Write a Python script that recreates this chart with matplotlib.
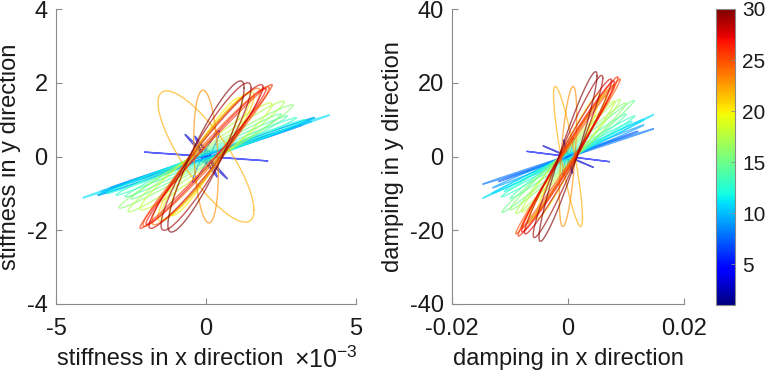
import numpy as np
import matplotlib
matplotlib.use("Agg")
import matplotlib.pyplot as plt
from matplotlib import cm, colors

# --- DATA: one orbit ellipse per index (1..30), x = ax*cos(t), y = ay*cos(t - phase) ---
INDEX = np.arange(1, 31)

# stiffness (x amplitude in 1e-3 units, y amplitude, phase in degrees)
STIFF_X_AMP = [0.15, 0.25, 0.70, 0.37, 2.05, 0.45, 3.20, 3.50, 3.60, 3.60,
               4.10, 3.30, 3.00, 2.70, 2.50, 2.90, 2.60, 2.20, 1.50, 1.20,
               1.60, 1.60, 0.41, 1.80, 2.10, 2.20, 2.00, 1.90, 1.50, 1.27]
STIFF_Y_AMP = [0.15, 0.35, 0.60, 0.55, 0.12, 0.70, 0.85, 0.95, 1.05, 1.05,
               1.12, 1.00, 1.05, 1.10, 1.15, 1.40, 1.50, 1.45, 1.70, 1.60,
               1.75, 1.78, 1.80, 1.85, 1.90, 1.95, 1.85, 1.95, 2.00, 2.05]
STIFF_PHASE = [60, 150, 176, 172, 177, 15, 2, 2, 3, 3,
               2, 5, 6, 7, 8, 9, 10, 14, 18, 22,
               20, 145, 104, 18, 12, 8, 10, 15, 22, 25]

# damping (x amplitude in 1e-3 units, y amplitude, phase in degrees)
DAMP_X_AMP = [0.5, 0.8, 4.3, 0.8, 7.1, 1.0, 12.0, 14.7, 13.0, 13.0,
              14.7, 11.0, 11.5, 10.0, 11.4, 10.0, 9.0, 8.0, 6.5, 5.5,
              7.0, 2.5, 1.5, 8.0, 9.0, 8.6, 8.0, 7.5, 6.0, 5.0]
DAMP_Y_AMP = [0.5, 1.5, 2.9, 4.5, 1.4, 5.0, 6.8, 7.5, 8.5, 10.0,
              11.3, 9.5, 11.0, 11.5, 15.2, 14.5, 15.5, 15.0, 16.5, 17.0,
              18.0, 19.0, 19.0, 19.5, 21.0, 21.6, 20.5, 21.0, 22.0, 23.0]
DAMP_PHASE = [60, 150, 178, 170, 178, 15, 2, 2, 3, 3,
              2, 4, 5, 6, 6, 8, 8, 10, 12, 15,
              10, 151, 54, 8, 6, 8, 10, 12, 15, 18]

STIFF_XTICKS = [-5e-3, 0, 5e-3]
STIFF_XTICKLABELS = ['-5', '0', '5']
STIFF_YTICKS = [-4, -2, 0, 2, 4]
DAMP_XTICKS = [-0.02, 0, 0.02]
DAMP_XTICKLABELS = ['-0.02', '0', '0.02']
DAMP_YTICKS = [-40, -20, 0, 20, 40]
CBAR_TICKS = [5, 10, 15, 20, 25, 30]

AXIS_GREY = '#8a8a8a'
TEXT_COLOR = '#1a1a1a'

plt.rcParams['font.family'] = ['Liberation Sans', 'DejaVu Sans']
plt.rcParams['mathtext.fontset'] = 'custom'
plt.rcParams['mathtext.rm'] = 'Liberation Sans'
plt.rcParams['mathtext.it'] = 'Liberation Sans:italic'
plt.rcParams['axes.unicode_minus'] = False


def draw_orbits(ax, x_amp, y_amp, phase, x_scale, cmap, norm):
    t = np.linspace(0, 2 * np.pi, 200)
    for k, a, b, p in zip(INDEX, x_amp, y_amp, phase):
        x = a * x_scale * np.cos(t)
        y = b * np.cos(t - np.deg2rad(p))
        ax.plot(x, y, color=cmap(norm(k)), lw=1.0, alpha=0.65)


def style_axes(ax):
    for side in ('top', 'right'):
        ax.spines[side].set_visible(False)
    for side in ('left', 'bottom'):
        ax.spines[side].set_color(AXIS_GREY)
        ax.spines[side].set_linewidth(0.8)
    ax.tick_params(direction='in', length=4, width=0.8, color=AXIS_GREY,
                   labelsize=17, labelcolor=TEXT_COLOR, pad=6)
    ax.tick_params(axis='x', pad=10)


def main():
    fig = plt.figure(figsize=(7.65, 3.74), dpi=100)
    cmap = cm.jet
    norm = colors.Normalize(vmin=1, vmax=30)

    H = 374.0
    W = 765.0
    ax1 = fig.add_axes([56 / W, (H - 304) / H, 300 / W, 295 / H])
    ax2 = fig.add_axes([452 / W, (H - 304) / H, 232 / W, 295 / H])
    cax = fig.add_axes([716 / W, (H - 305) / H, 19 / W, 296 / H])

    # stiffness
    draw_orbits(ax1, STIFF_X_AMP, STIFF_Y_AMP, STIFF_PHASE, 1e-3, cmap, norm)
    ax1.set_xlim(-5e-3, 5e-3)
    ax1.set_ylim(-4, 4)
    ax1.set_xticks(STIFF_XTICKS, labels=STIFF_XTICKLABELS)
    ax1.set_yticks(STIFF_YTICKS)
    style_axes(ax1)
    ax1.set_xlabel('stiffness in x direction', fontsize=17, color=TEXT_COLOR)
    ax1.xaxis.set_label_coords(0.38, -0.148)
    ax1.text(1.005, -0.19, r'$\times10^{-3}$', transform=ax1.transAxes,
             ha='right', va='center', fontsize=18, color=TEXT_COLOR)
    ax1.set_ylabel('stiffness in y direction', fontsize=17, color=TEXT_COLOR, labelpad=4)

    # damping
    draw_orbits(ax2, DAMP_X_AMP, DAMP_Y_AMP, DAMP_PHASE, 1e-3, cmap, norm)
    ax2.set_xlim(-0.02, 0.02)
    ax2.set_ylim(-40, 40)
    ax2.set_xticks(DAMP_XTICKS, labels=DAMP_XTICKLABELS)
    ax2.set_yticks(DAMP_YTICKS)
    style_axes(ax2)
    ax2.set_xlabel('damping in x direction', fontsize=17, color=TEXT_COLOR)
    ax2.xaxis.set_label_coords(0.5, -0.148)
    ax2.set_ylabel('damping in y direction', fontsize=17, color=TEXT_COLOR, labelpad=4)

    # colorbar
    sm = cm.ScalarMappable(norm=norm, cmap=cmap)
    cb = fig.colorbar(sm, cax=cax)
    cb.set_ticks(CBAR_TICKS)
    cb.outline.set_edgecolor(AXIS_GREY)
    cb.outline.set_linewidth(0.8)
    cax.tick_params(direction='in', length=3, width=0.6, color=AXIS_GREY,
                    labelsize=15, labelcolor=TEXT_COLOR, pad=5)

    fig.savefig('out.png', dpi=100)


if __name__ == "__main__":
    main()
